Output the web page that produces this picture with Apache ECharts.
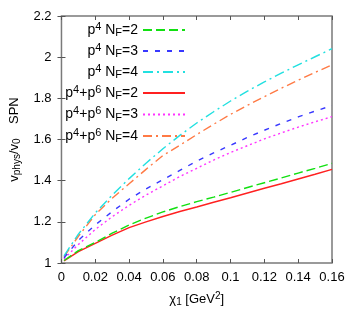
<!DOCTYPE html>
<html>
<head>
<meta charset="utf-8">
<script src="https://cdn.jsdelivr.net/npm/echarts@6/dist/echarts.min.js"></script>
<style>html,body{margin:0;padding:0;background:#fff}#c{width:357px;height:323px}</style>
</head>
<body>
<div id="c"></div>
<script>
// chi_1 values (GeV^2)
const chi = [0.0015, 0.01, 0.02, 0.03, 0.04, 0.05, 0.06, 0.07, 0.08, 0.09, 0.10, 0.11, 0.12, 0.13, 0.14, 0.15, 0.16];
// v_phys / v_0
const p4_NF2   = [1.012, 1.06, 1.10, 1.145, 1.185, 1.218, 1.248, 1.274, 1.298, 1.32, 1.343, 1.367, 1.39, 1.413, 1.437, 1.46, 1.484];
const p4_NF3   = [1.025, 1.11, 1.185, 1.25, 1.31, 1.36, 1.405, 1.45, 1.495, 1.535, 1.572, 1.61, 1.645, 1.678, 1.71, 1.738, 1.765];
const p4_NF4   = [1.035, 1.14, 1.243, 1.33, 1.41, 1.485, 1.555, 1.62, 1.68, 1.735, 1.787, 1.835, 1.88, 1.922, 1.963, 2.002, 2.041];
const p46_NF2  = [1.01, 1.055, 1.095, 1.135, 1.172, 1.2, 1.226, 1.25, 1.272, 1.295, 1.317, 1.34, 1.363, 1.385, 1.408, 1.431, 1.455];
const p46_NF3  = [1.02, 1.09, 1.163, 1.225, 1.28, 1.33, 1.375, 1.42, 1.46, 1.5, 1.537, 1.57, 1.603, 1.632, 1.66, 1.686, 1.711];
const p46_NF4  = [1.03, 1.13, 1.235, 1.315, 1.385, 1.455, 1.522, 1.572, 1.624, 1.674, 1.722, 1.766, 1.808, 1.849, 1.888, 1.926, 1.962];

const names = ['p4 NF=2', 'p4 NF=3', 'p4 NF=4', 'p4+p6 NF=2', 'p4+p6 NF=3', 'p4+p6 NF=4'];
const labelsRich = [
  'p{sup|4} N{sub|F}=2', 'p{sup|4} N{sub|F}=3', 'p{sup|4} N{sub|F}=4',
  'p{sup|4}+p{sup|6} N{sub|F}=2', 'p{sup|4}+p{sup|6} N{sub|F}=3', 'p{sup|4}+p{sup|6} N{sub|F}=4'
];
const values = [p4_NF2, p4_NF3, p4_NF4, p46_NF2, p46_NF3, p46_NF4];
const colors = ['#11e011', '#3838ff', '#22e0e0', '#ff2020', '#ff33ff', '#ff7a45'];
const dashes = [[9, 4], [5, 7], [10, 4, 2, 4], 'solid', [2, 3], [9, 4, 2, 4]];

const FONT = 'Liberation Sans';
const rich = {
  sup: { fontSize: 10, verticalAlign: 'top', padding: [0, 0, 7, 0], fontFamily: FONT, color: '#000' },
  sub: { fontSize: 10, padding: [6, 0, 0, 0], fontFamily: FONT, color: '#000' }
};
const richLeg = {
  sup: { fontSize: 11, verticalAlign: 'top', padding: [0, 0, 7, 0], fontFamily: FONT, color: '#000' },
  sub: { fontSize: 11, padding: [6, 0, 0, 0], fontFamily: FONT, color: '#000' }
};

const series = names.map((n, i) => ({
  name: n,
  type: 'line',
  symbol: 'none',
  smooth: false,
  data: chi.map((x, j) => [x, values[i][j]]),
  lineStyle: { color: colors[i], width: 1.4, type: dashes[i] },
  itemStyle: { color: colors[i] },
  z: 10 - i
}));

const rowCenters = [31, 52, 73, 94, 115.5, 137];
const legends = names.map((n, i) => ({
  data: [n],
  orient: 'vertical',
  align: 'right',
  right: 171,
  top: rowCenters[i] - 10,
  padding: 0,
  itemWidth: 42,
  itemHeight: 14,
  itemGap: 0,
  itemStyle: { opacity: 0, borderWidth: 0 },
  formatter: () => labelsRich[i],
  textStyle: { fontFamily: FONT, fontSize: 14, color: '#000', rich: richLeg },
  selectedMode: false
}));

const axisCommon = {
  type: 'value',
  splitLine: { show: false },
  axisLine: { show: false },
  axisTick: { show: true, inside: true, length: 4, lineStyle: { color: '#555', width: 1 } }
};

const option = {
  animation: false,
  backgroundColor: '#fff',
  grid: { left: 56, right: 25, top: 16, bottom: 60, show: true, borderColor: '#7a7a7a', borderWidth: 1.5 },
  legend: legends,
  xAxis: [
    Object.assign({}, axisCommon, {
      min: 0, max: 0.16, interval: 0.02, position: 'bottom',
      axisLabel: { fontFamily: FONT, fontSize: 13, color: '#000', margin: 8 },
      name: 'χ{sub|1} [GeV{sup|2}]',
      nameLocation: 'middle', nameGap: 28,
      nameTextStyle: { fontFamily: FONT, fontSize: 13, color: '#000', rich: rich }
    }),
    Object.assign({}, axisCommon, {
      min: 0, max: 0.16, interval: 0.02, position: 'top',
      axisLabel: { show: false }
    })
  ],
  yAxis: [
    Object.assign({}, axisCommon, {
      min: 1, max: 2.2, interval: 0.2, position: 'left',
      axisLabel: { fontFamily: FONT, fontSize: 13, color: '#000', margin: 10 },
      name: 'v{sub|phys}/v{sub|0}    SPN',
      nameLocation: 'middle', nameGap: 35, nameRotate: 90,
      nameTextStyle: { fontFamily: FONT, fontSize: 13, color: '#000', rich: rich }
    }),
    Object.assign({}, axisCommon, {
      min: 1, max: 2.2, interval: 0.2, position: 'right',
      axisLabel: { show: false }
    })
  ],
  series: series
};

const chart = echarts.init(document.getElementById('c'), null, { renderer: 'canvas' });
chart.setOption(option);
</script>
</body>
</html>
